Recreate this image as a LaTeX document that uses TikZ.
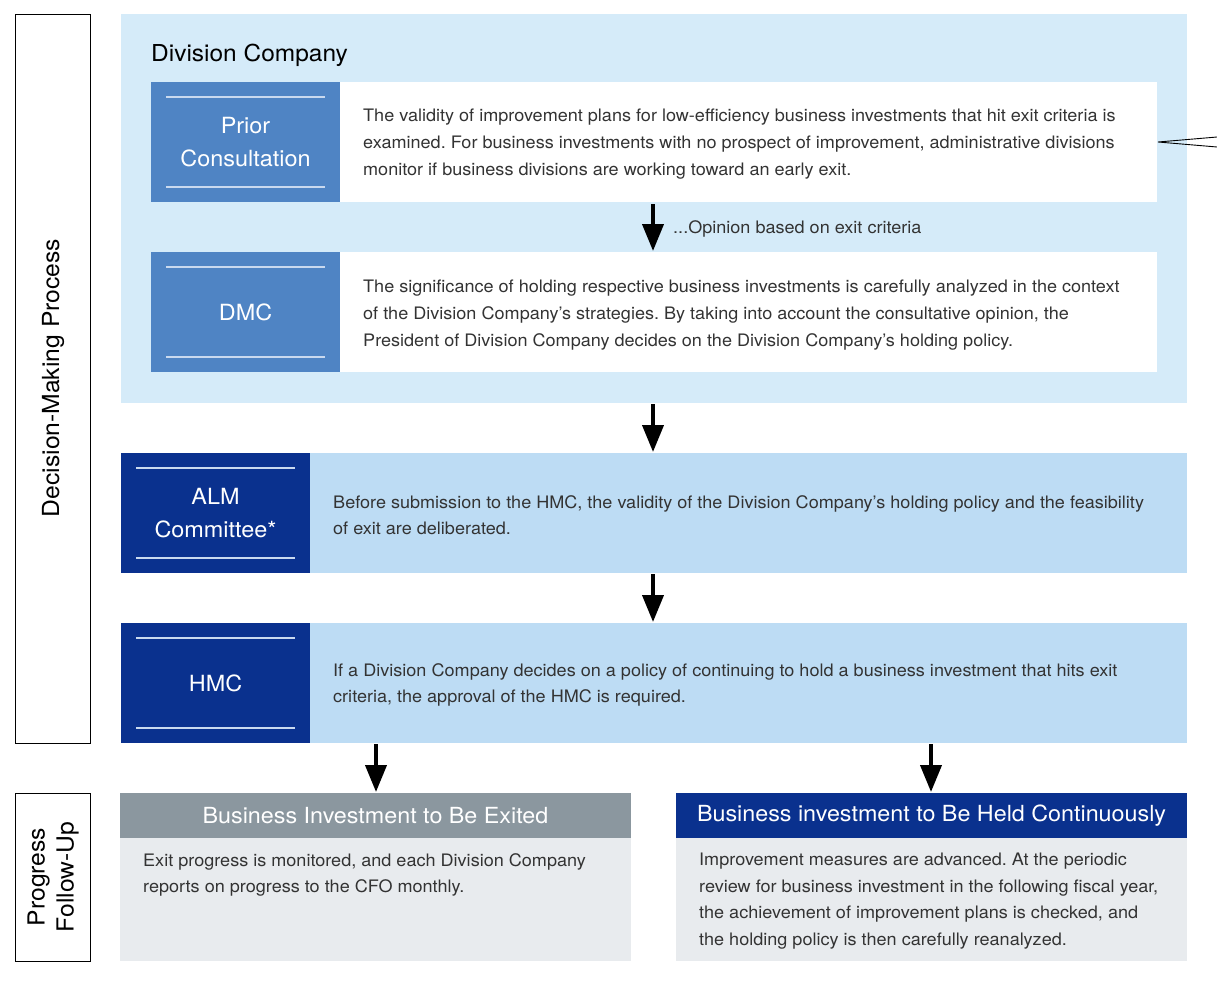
\documentclass[tikz,border=0pt]{standalone}
\usepackage{fontspec}
\setmainfont[FakeStretch=1.05]{TeX Gyre Heros}
\usetikzlibrary{arrows.meta}
\definecolor{bgblue}{HTML}{D5EBF9}
\definecolor{midblue}{HTML}{4F84C4}
\definecolor{darkblue}{HTML}{0A318E}
\definecolor{paleblue}{HTML}{BDDCF4}
\definecolor{greyhead}{HTML}{8B979F}
\definecolor{greybody}{HTML}{E8EBEE}
\definecolor{txt}{HTML}{333333}
\definecolor{rule}{HTML}{C9D9EF}
\tikzset{
  area/.style={anchor=north west, inner sep=0, outer sep=0},
  labelbox/.style={area, minimum width=189pt, minimum height=120pt},
  labeltext/.style={text=white, align=center, font=\fontsize{22.3}{33.5}\selectfont},
  desc/.style={anchor=west, inner sep=0, align=left, text=txt, font=\fontsize{17.2}{26.6}\selectfont},
  flowarrow/.style={line width=4pt, -{Triangle[length=27pt,width=21pt]}},
  sidebox/.style={area, draw=black, line width=0.8pt, minimum width=75pt},
  headtext/.style={text=white, font=\fontsize{22.2}{26}\selectfont},
  thinrule/.style={draw=rule, line width=1.3pt}
}
\begin{document}
\frenchspacing
\begin{tikzpicture}[x=1pt,y=-1pt]
\useasboundingbox (0,0) rectangle (1217,996);
% side labels
\node[sidebox, minimum height=729pt] (dmp) at (15,14) {};
\node[rotate=90, font=\fontsize{23.5}{28}\selectfont] at (53,378) {Decision-Making Process};
\node[sidebox, minimum height=168pt] (pfu) at (15,793) {};
\node[rotate=90, align=center, font=\fontsize{23.5}{29}\selectfont] at (53,877) {Progress\\Follow-Up};
% division company
\node[area, fill=bgblue, minimum width=1066pt, minimum height=389pt] (divco) at (121,14) {};
\node[anchor=west, inner sep=0, text=black, font=\fontsize{23.3}{26}\selectfont] (divtitle) at (151,55) {Division Company};
% prior consultation
\node[labelbox, fill=midblue] (pc) at (151,82) {};
\node[labeltext] at (pc.center) {Prior\\Consultation};
\node[area, fill=white, minimum width=817pt, minimum height=120pt] (pct) at (340,82) {};
\draw[thinrule] (166,97) -- (325,97);
\draw[thinrule] (166,187) -- (325,187);
\node[desc] at (363,144) {The validity of improvement plans for low-efficiency business investments that hit exit criteria is\\examined. For business investments with no prospect of improvement, administrative divisions\\monitor if business divisions are working toward an early exit.};
% DMC
\node[labelbox, fill=midblue] (dmc) at (151,252) {};
\node[labeltext] at (dmc.center) {DMC};
\node[area, fill=white, minimum width=817pt, minimum height=120pt] (dmct) at (340,252) {};
\draw[thinrule] (166,267) -- (325,267);
\draw[thinrule] (166,357) -- (325,357);
\node[desc] at (363,315) {The significance of holding respective business investments is carefully analyzed in the context\\of the Division Company’s strategies. By taking into account the consultative opinion, the\\President of Division Company decides on the Division Company’s holding policy.};
% opinion arrow
\coordinate (a1s) at (653,204);
\coordinate (a1e) at (653,251);
\draw[flowarrow] (a1s) -- (a1e);
\node[anchor=west, inner sep=0, text=txt, font=\fontsize{17.2}{20}\selectfont] (op) at (673,229) {...Opinion based on exit criteria};
% callout wedge at right edge
\coordinate (w0) at (1158,142);
\coordinate (w1) at (1217,137);
\coordinate (w2) at (1217,147);
\draw[line width=0.9pt] (w1) -- (w0) -- (w2);
% ALM
\node[labelbox, fill=darkblue] (alm) at (121,453) {};
\node[labeltext] at (alm.center) {ALM\\Committee*};
\node[area, fill=paleblue, minimum width=877pt, minimum height=120pt] (almt) at (310,453) {};
\draw[thinrule] (136,468) -- (295,468);
\draw[thinrule] (136,558) -- (295,558);
\node[desc] at (333,515) {Before submission to the HMC, the validity of the Division Company’s holding policy and the feasibility\\of exit are deliberated.};
% HMC
\node[labelbox, fill=darkblue] (hmc) at (121,623) {};
\node[labeltext] at (hmc.center) {HMC};
\node[area, fill=paleblue, minimum width=877pt, minimum height=120pt] (hmct) at (310,623) {};
\draw[thinrule] (136,638) -- (295,638);
\draw[thinrule] (136,728) -- (295,728);
\node[desc] at (333,685) {If a Division Company decides on a policy of continuing to hold a business investment that hits exit\\criteria, the approval of the HMC is required.};
% arrows between stages
\draw[flowarrow] (653,404) -- (653,452);
\draw[flowarrow] (653,574) -- (653,622);
% outcomes
\node[area, fill=greyhead, minimum width=511pt, minimum height=45pt] (exh) at (120,793) {};
\node[headtext] at (exh.center) {Business Investment to Be Exited};
\node[area, fill=greybody, minimum width=511pt, minimum height=123pt] (exb) at (120,838) {};
\node[desc, anchor=north west] at (143,853) {Exit progress is monitored, and each Division Company\\reports on progress to the CFO monthly.};
\node[area, fill=darkblue, minimum width=511pt, minimum height=45pt] (hdh) at (676,793) {};
\node[headtext] at (hdh.center) {Business investment to Be Held Continuously};
\node[area, fill=greybody, minimum width=511pt, minimum height=123pt] (hdb) at (676,838) {};
\node[desc, anchor=north west] at (699,853) {Improvement measures are advanced. At the periodic\\review for business investment in the following fiscal year,\\the achievement of improvement plans is checked, and\\the holding policy is then carefully reanalyzed.};
\coordinate (ex1) at (376,744);
\coordinate (ex2) at (376,792);
\coordinate (hd1) at (931,744);
\coordinate (hd2) at (931,792);
\draw[flowarrow] (ex1) -- (ex2);
\draw[flowarrow] (hd1) -- (hd2);
\end{tikzpicture}
\end{document}
